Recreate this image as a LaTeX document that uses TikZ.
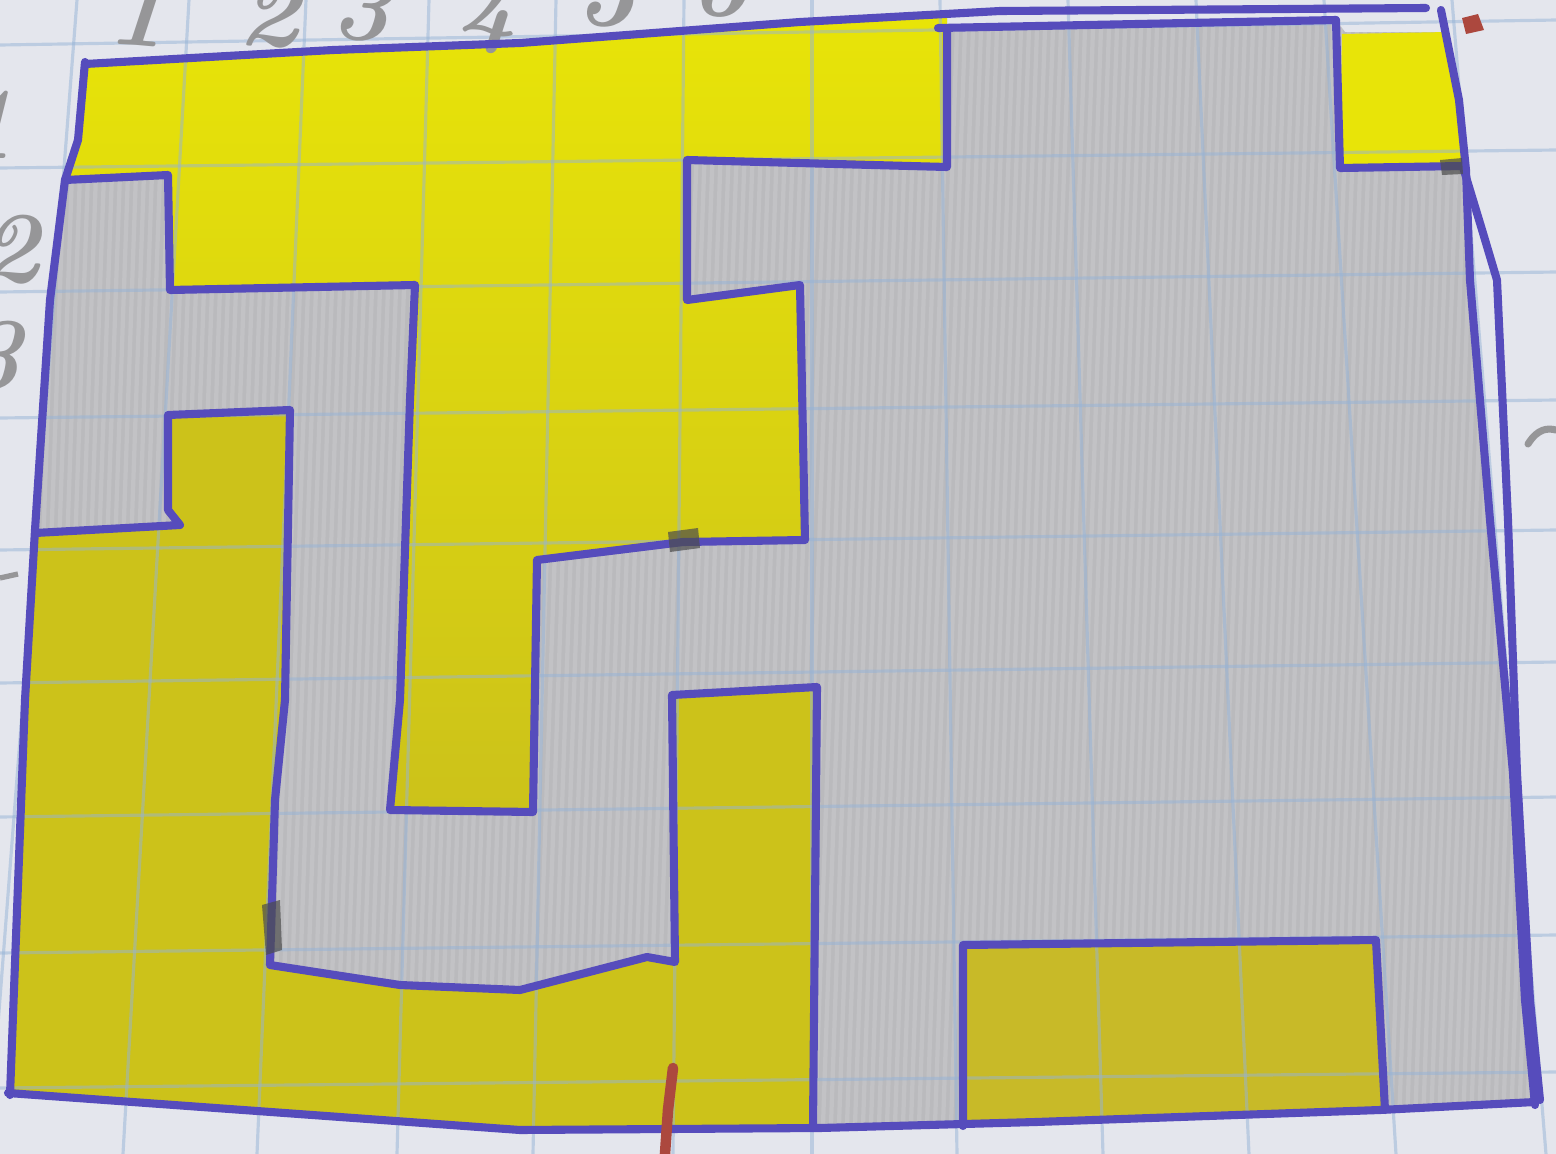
\documentclass[tikz,border=0pt]{standalone}
\usepackage{tikz}

\begin{document}
\begin{tikzpicture}[x=0.01cm, y=-0.01cm]
  \definecolor{paper}{RGB}{228,230,237}
  \definecolor{gridblue}{RGB}{150,180,215}
  \definecolor{penblue}{RGB}{86,76,188}
  \definecolor{pencilgray}{RGB}{186,186,189}
  \definecolor{yelbright}{RGB}{232,228,8}
  \definecolor{yelolive}{RGB}{204,194,26}
  \definecolor{yeldull}{RGB}{200,186,40}
  \definecolor{digitgray}{RGB}{150,150,152}
  \definecolor{redmark}{RGB}{172,72,62}
  \tikzset{
    pen/.style={draw=penblue, line width=2.3pt, line join=round, line cap=round},
    gridline/.style={draw=gridblue, line width=0.9pt, opacity=0.5},
    digit/.style={text=digitgray, font=\fontsize{29}{29}\selectfont\bfseries\itshape, inner sep=0pt},
    smudge/.style={fill=black!70, opacity=0.7}
  }
  \def\fieldpath{(85,65) -- (333,50) -- (520,43) -- (800,22) -- (947,14) -- (947,28)
    -- (1336,20) -- (1345,32) -- (1448,32) -- (1459,100) -- (1466,170) -- (1470,280)
    -- (1490,520) -- (1513,773) -- (1525,1000) -- (1535,1105) -- (1380,1110)
    -- (1036,1122) -- (820,1128) -- (520,1130) -- (10,1093) -- (25,700) -- (35,530)
    -- (50,300) -- (65,180) -- (78,140) -- cycle}
  \useasboundingbox (0,0) rectangle (1556,1154);
  \clip (0,0) rectangle (1556,1154);
  \fill[paper] (0,0) rectangle (1556,1154);

  % pencil shading of the whole field
  \fill[pencilgray] \fieldpath;
  \begin{scope}
    \clip \fieldpath;
    \foreach \x in {14,22,...,1580}
      \draw[white, opacity=0.13, line width=1.2pt] (\x,0) -- (\x-40,1154);
  \end{scope}

  % yellow parts
  \shade[top color=yelbright, bottom color=yelolive]
    (85,66) -- (333,51) -- (520,44) -- (800,23) -- (947,15) -- (947,167) -- (687,160)
    -- (687,300) -- (800,285) -- (805,540) -- (683,542) -- (537,560) -- (533,812)
    -- (390,810) -- (400,700) -- (410,400) -- (415,285) -- (170,290) -- (168,175)
    -- (65,180) -- (78,140) -- cycle;
  \fill[yelolive] (35,533) -- (180,525) -- (168,510) -- (168,415) -- (290,410)
    -- (285,700) -- (275,800) -- (270,965) -- (400,985) -- (520,990) -- (647,957)
    -- (675,962) -- (672,695) -- (817,687) -- (813,1128) -- (520,1130) -- (10,1093)
    -- (25,700) -- cycle;
  \fill[yelbright] (1342,34) -- (1448,32) -- (1459,100) -- (1463,166) -- (1340,168) -- cycle;
  \fill[yeldull] (963,1126) -- (963,945) -- (1376,940) -- (1385,1110) -- (1036,1122) -- cycle;

  % squared paper
  \foreach \xt/\xb in {77/-12, 189/123, 306/257, 429/397, 556/533, 684/673,
      812/812, 940/957, 1068/1103, 1196/1249, 1324/1396, 1452/1546}
    \draw[gridline] (\xt,0) -- (\xb,1154);
  \foreach \yl/\yr in {45/20, 168/150, 292/272, 418/400, 550/530, 683/662,
      817/797, 953/935, 1088/1072}
    \draw[gridline] (0,\yl) -- (1556,\yr);

  % pencil numbers
  \node[digit, anchor=base, rotate=-4] (top1) at (136,46) {1};
  \node[digit, anchor=base, rotate=-4] (top2) at (268,46) {2};
  \node[digit, anchor=base, rotate=-4] (top3) at (360,40) {3};
  \node[digit, anchor=base, rotate=-4] (top4) at (488,34) {4};
  \node[digit, anchor=base, rotate=-4] (top5) at (605,26) {5};
  \node[digit, anchor=base, rotate=-4] (top6) at (718,16) {6};
  \node[digit, anchor=base east] (side1) at (16,158) {1};
  \node[digit, anchor=base east] (side2) at (40,282) {2};
  \node[digit, anchor=base east] (side3) at (22,388) {3};
  \draw[digitgray, line width=1.5pt] (0,578) -- (18,574);
  \draw[digitgray, line width=2pt, line cap=round] (1528,444) .. controls (1538,428) and (1548,428) .. (1556,430);

  % pen outlines
  \draw[pen] (85,64) -- (333,50) -- (520,43) -- (800,22) -- (1000,11) -- (1426,8);
  \draw[pen] (938,28) -- (1336,20);
  \draw[pen] (1441,10) -- (1459,100) -- (1466,170) -- (1470,280) -- (1490,520)
    -- (1513,773) -- (1525,1000) -- (1535,1105);
  \draw[pen] (1463,167) -- (1483,233) -- (1497,280) -- (1508,520) -- (1517,773)
    -- (1530,1000) -- (1540,1100);
  \draw[pen] (8,1093) -- (520,1130) -- (820,1128) -- (1036,1122) -- (1380,1110) -- (1535,1102);
  \draw[pen] (85,62) -- (78,140) -- (65,180) -- (50,300) -- (35,530) -- (25,700) -- (10,1095);
  \draw[pen] (65,180) -- (168,175) -- (170,290) -- (415,285) -- (410,400) -- (400,700)
    -- (390,810) -- (533,812) -- (537,560) -- (683,542) -- (805,540) -- (800,285)
    -- (687,300) -- (687,160) -- (947,167) -- (947,28);
  \draw[pen] (35,533) -- (180,525) -- (168,510) -- (168,415) -- (290,410) -- (285,700)
    -- (275,800) -- (270,965) -- (400,985) -- (520,990) -- (647,957) -- (675,962)
    -- (672,695) -- (817,687) -- (813,1128);
  \draw[pen] (1336,20) -- (1340,168) -- (1463,166);
  \draw[pen] (963,1126) -- (963,945) -- (1376,940) -- (1385,1110);

  % smudges and red marks
  \fill[smudge] (262,905) -- (280,900) -- (282,950) -- (266,955) -- cycle;
  \fill[smudge] (668,532) -- (698,528) -- (700,548) -- (670,552) -- cycle;
  \fill[smudge] (1440,160) -- (1462,158) -- (1463,174) -- (1442,175) -- cycle;
  \fill[redmark] (1462,18) -- (1478,14) -- (1484,30) -- (1466,34) -- cycle;
  \draw[redmark, line width=3pt, line cap=round] (673,1068) -- (668,1110) -- (665,1154);
\end{tikzpicture}
\end{document}
